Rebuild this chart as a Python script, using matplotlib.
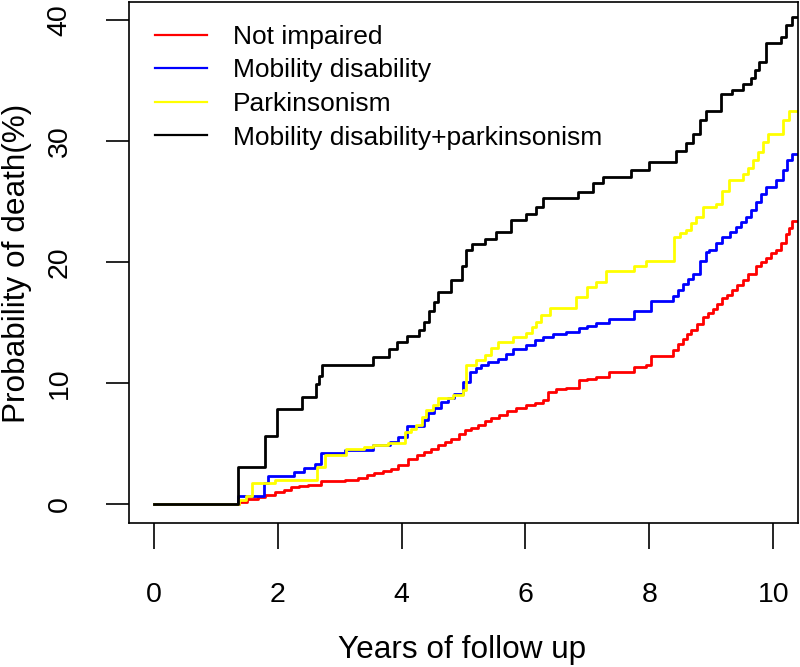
import numpy as np
import matplotlib
matplotlib.use("Agg")
import matplotlib.pyplot as plt

plt.rcParams['font.family'] = ['Liberation Sans', 'DejaVu Sans']

# ---- data (years, cumulative probability of death %) ----
labels = ["Not impaired", "Mobility disability", "Parkinsonism",
          "Mobility disability+parkinsonism"]
colors = ["#FF0000", "#0000FF", "#FFFF00", "#000000"]

t_not = [0, 1.38, 1.50, 1.68, 1.80, 1.95, 2.10, 2.22, 2.35, 2.49,
         2.70, 3.08, 3.30, 3.45, 3.56, 3.70, 3.83, 3.95, 4.10, 4.25,
         4.37, 4.48, 4.59, 4.70, 4.80, 4.92, 5.02, 5.12, 5.23, 5.34,
         5.45, 5.58, 5.71, 5.85, 6.01, 6.15, 6.28, 6.36, 6.50, 6.66,
         6.87, 7.00, 7.14, 7.35, 7.76, 7.95, 8.03, 8.38, 8.46, 8.54,
         8.60, 8.67, 8.77, 8.86, 8.94, 9.02, 9.10, 9.18, 9.26, 9.34,
         9.42, 9.51, 9.60, 9.72, 9.80, 9.88, 9.96, 10.04, 10.12, 10.20,
         10.26, 10.31]
p_not = [0, 0.15, 0.35, 0.56, 0.75, 0.98, 1.15, 1.34, 1.45, 1.53,
         1.86, 1.94, 2.13, 2.35, 2.55, 2.70, 2.83, 3.20, 3.66, 4.00,
         4.28, 4.55, 4.84, 5.10, 5.39, 5.75, 6.08, 6.30, 6.49, 6.80,
         7.05, 7.35, 7.68, 7.90, 8.15, 8.35, 8.56, 9.25, 9.45, 9.60,
         10.2, 10.35, 10.5, 10.9, 11.3, 11.45, 12.2, 12.7, 13.2, 13.66,
         14.0, 14.35, 14.9, 15.45, 15.8, 16.1, 16.5, 17.0, 17.3, 17.66,
         18.1, 18.5, 19.0, 19.7, 20.0, 20.3, 20.7, 21.0, 21.6, 22.3,
         22.8, 23.4]

t_mob = [0, 1.36, 1.78, 1.85, 2.27, 2.42, 2.60, 2.70, 3.08, 3.54,
         3.81, 3.94, 4.08, 4.37, 4.42, 4.53, 4.64, 4.75, 4.85, 4.99,
         5.10, 5.20, 5.28, 5.40, 5.55, 5.68, 5.80, 6.01, 6.15, 6.28,
         6.45, 6.66, 6.87, 7.00, 7.14, 7.35, 7.76, 8.03, 8.38, 8.46,
         8.54, 8.62, 8.70, 8.81, 8.91, 8.97, 9.08, 9.18, 9.30, 9.40,
         9.48, 9.56, 9.64, 9.72, 9.80, 9.88, 10.04, 10.15, 10.23, 10.31]
p_mob = [0, 0.62, 1.67, 2.27, 2.63, 2.99, 3.32, 4.2, 4.48, 4.84,
         5.1, 5.5, 6.4, 6.9, 7.46, 7.9, 8.42, 8.75, 9.1, 10.1,
         10.9, 11.2, 11.45, 11.7, 12.0, 12.4, 12.8, 13.1, 13.5, 13.8,
         14.0, 14.2, 14.5, 14.7, 14.95, 15.3, 15.9, 16.8, 17.2, 17.7,
         18.2, 18.6, 19.0, 20.1, 20.8, 21.0, 21.6, 22.1, 22.5, 22.9,
         23.3, 23.7, 24.3, 24.96, 25.6, 26.2, 26.8, 27.6, 28.4, 28.9]

t_park = [0, 1.38, 1.49, 1.58, 1.95, 2.63, 2.76, 3.11, 3.40, 3.54,
          3.78, 4.05, 4.15, 4.24, 4.33, 4.40, 4.50, 4.59, 4.83, 4.99,
          5.04, 5.20, 5.34, 5.45, 5.55, 5.80, 6.01, 6.10, 6.17, 6.25,
          6.39, 6.82, 7.00, 7.14, 7.30, 7.76, 7.95, 8.40, 8.50, 8.59,
          8.67, 8.75, 8.86, 9.07, 9.18, 9.29, 9.51, 9.60, 9.67, 9.75,
          9.83, 9.91, 10.15, 10.26]
p_park = [0, 0.3, 0.62, 1.67, 1.94, 3.05, 4.0, 4.56, 4.7, 4.84,
          5.03, 5.94, 6.2, 6.49, 7.2, 7.73, 8.2, 8.7, 8.97, 9.39,
          11.45, 11.9, 12.3, 12.9, 13.4, 13.8, 14.1, 14.6, 15.0, 15.6,
          16.15, 17.1, 17.9, 18.3, 19.25, 19.7, 20.1, 22.1, 22.35, 22.6,
          23.2, 23.7, 24.55, 24.8, 25.9, 26.8, 27.3, 27.8, 28.4, 29.1,
          29.9, 30.6, 31.7, 32.5]

t_both = [0, 1.36, 1.79, 1.99, 2.40, 2.62, 2.66, 2.72, 3.54, 3.80,
          3.93, 4.09, 4.28, 4.37, 4.44, 4.52, 4.59, 4.80, 4.97, 5.04,
          5.13, 5.34, 5.53, 5.77, 6.01, 6.17, 6.28, 6.85, 7.09, 7.25,
          7.71, 8.00, 8.43, 8.59, 8.71, 8.81, 8.91, 9.16, 9.34, 9.51,
          9.64, 9.70, 9.77, 9.88, 10.13, 10.20, 10.31]
p_both = [0, 3.0, 5.6, 7.8, 8.85, 9.9, 10.6, 11.5, 12.1, 12.8,
          13.4, 13.85, 14.35, 15.0, 15.95, 16.7, 17.5, 18.5, 19.7, 21.0,
          21.5, 21.9, 22.5, 23.45, 24.0, 24.55, 25.25, 25.8, 26.5, 27.0,
          27.6, 28.3, 29.2, 29.8, 30.6, 31.7, 32.5, 33.9, 34.2, 34.75,
          35.2, 35.9, 36.5, 38.1, 38.6, 39.6, 40.3]

x_ticks = [0, 2, 4, 6, 8, 10]
y_ticks = [0, 10, 20, 30, 40]

# ---- figure ----
W, H = 800, 667
fig = plt.figure(figsize=(W / 100, H / 100), dpi=100)
ax = fig.add_axes([129 / W, 1 - 523 / H, (798 - 129) / W, (523 - 2) / H])

XMIN, XMAX = -0.4, 10.4
YMIN, YMAX = -1.6, 41.5

series = [(t_not, p_not), (t_mob, p_mob), (t_park, p_park), (t_both, p_both)]
for (t, p), c, lab in zip(series, colors, labels):
    tt = np.append(np.asarray(t, float), XMAX)
    pp = np.append(np.asarray(p, float), p[-1])
    ax.step(tt, pp, where='post', color=c, lw=2.0, label=lab)

ax.set_xlim(XMIN, XMAX)
ax.set_ylim(YMIN, YMAX)
ax.set_xticks(x_ticks)
ax.set_yticks(y_ticks)
ax.set_xticklabels([str(v) for v in x_ticks])
ax.set_yticklabels([str(v) for v in y_ticks])

for s in ax.spines.values():
    s.set_linewidth(1.2)

ax.tick_params(axis='x', length=18.5, width=1.2, pad=24, labelsize=20.5)
ax.tick_params(axis='y', length=16.5, width=1.2, pad=24, labelsize=20.5)
for lbl in ax.get_yticklabels():
    lbl.set_rotation(90)
    lbl.set_va('center')

ax.set_xlabel("Years of follow up", fontsize=22.7)
ax.set_ylabel("Probability of death(%)", fontsize=22.7)
ax.xaxis.set_label_coords((462 - 129) / (798 - 129), (523 - 650) / (523 - 2))
ax.yaxis.set_label_coords((17 - 129) / (798 - 129), (523 - 263) / (523 - 2))
ax.xaxis.label.set_va('center')
ax.yaxis.label.set_va('center')
ax.yaxis.label.set_ha('center')

leg = ax.legend(loc='upper left', bbox_to_anchor=((155 - 129) / 669, (523 - 25) / 521),
                frameon=False, fontsize=19, handlelength=1.97, handletextpad=0.98,
                labelspacing=0.36, borderpad=0, borderaxespad=0)
for line in leg.get_lines():
    line.set_linewidth(1.6)

fig.savefig("out.png", dpi=100)
